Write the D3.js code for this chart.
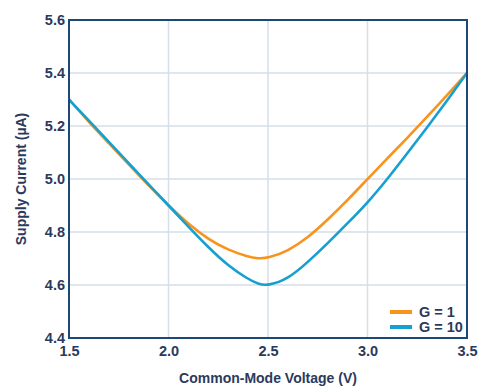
<!DOCTYPE html>
<html>
<head>
<meta charset="utf-8">
<script src="https://cdn.jsdelivr.net/npm/d3@7"></script>
<style>
  body { margin: 0; background: #fff; }
  text { font-family: "Liberation Sans", Arial, sans-serif; font-weight: bold; fill: #2b3a5c; }
</style>
</head>
<body>
<div id="chart"></div>
<script>
// data
var voltage = [1.5, 1.6, 1.7, 1.8, 1.9, 2.0, 2.1, 2.2, 2.3, 2.4, 2.45, 2.5, 2.6, 2.7, 2.8, 2.9, 3.0, 3.1, 3.2, 3.3, 3.4, 3.5];
var gain1   = [5.30, 5.215, 5.135, 5.055, 4.975, 4.90, 4.83, 4.772, 4.732, 4.706, 4.70, 4.701, 4.728, 4.778, 4.846, 4.92, 5.00, 5.078, 5.155, 5.235, 5.316, 5.40];
var gain10  = [5.30, 5.22, 5.14, 5.06, 4.98, 4.90, 4.82, 4.742, 4.672, 4.622, 4.604, 4.597, 4.622, 4.686, 4.757, 4.833, 4.91, 5.00, 5.097, 5.195, 5.296, 5.40];
var xTicks = [1.5, 2.0, 2.5, 3.0, 3.5];
var yTicks = [4.4, 4.6, 4.8, 5.0, 5.2, 5.4, 5.6];
var seriesNames = ["G = 1", "G = 10"];
var seriesColors = ["#f7941d", "#16a0d0"];

var svgWidth = 480;
var svgHeight = 387;
var margin = { top: 20, right: 13, bottom: 49, left: 69 };
var width = svgWidth - margin.left - margin.right;
var height = svgHeight - margin.top - margin.bottom;

var svg = d3.select("#chart")
  .append("svg")
  .attr("width", svgWidth)
  .attr("height", svgHeight);

var chartGroup = svg.append("g")
  .attr("transform", `translate(${margin.left}, ${margin.top})`);

var x = d3.scaleLinear().domain([1.5, 3.5]).range([0, width]);
var y = d3.scaleLinear().domain([4.4, 5.6]).range([height, 0]);

// grid
chartGroup.append("g")
  .selectAll("line")
  .data(xTicks.slice(1, -1))
  .enter()
  .append("line")
  .attr("x1", d => x(d)).attr("x2", d => x(d))
  .attr("y1", 0).attr("y2", height)
  .attr("stroke", "#d6dee7")
  .attr("stroke-width", 1.5);

chartGroup.append("g")
  .selectAll("line")
  .data(yTicks.slice(1, -1))
  .enter()
  .append("line")
  .attr("x1", 0).attr("x2", width)
  .attr("y1", d => y(d)).attr("y2", d => y(d))
  .attr("stroke", "#d6dee7")
  .attr("stroke-width", 1.5);

// axes (labels only, frame drawn separately)
var bottomAxis = d3.axisBottom(x).tickValues(xTicks).tickFormat(d3.format(".1f")).tickSize(0).tickPadding(8);
var leftAxis = d3.axisLeft(y).tickValues(yTicks).tickFormat(d3.format(".1f")).tickSize(0).tickPadding(4);

var xAxis = chartGroup.append("g")
  .attr("transform", `translate(0, ${height})`)
  .call(bottomAxis);
var yAxis = chartGroup.append("g").call(leftAxis);
[xAxis, yAxis].forEach(function(a) {
  a.select(".domain").remove();
  a.selectAll("text").style("font-size", "14.5px").style("fill", "#2b3a5c").style("font-family", "Liberation Sans, Arial, sans-serif").style("font-weight", "bold");
});

// curves
var line = d3.line()
  .x(d => x(d[0]))
  .y(d => y(d[1]))
  .curve(d3.curveBasis);

[gain1, gain10].forEach(function(vals, i) {
  chartGroup.append("path")
    .datum(voltage.map((v, j) => [v, vals[j]]))
    .attr("fill", "none")
    .attr("stroke", seriesColors[i])
    .attr("stroke-width", 2.6)
    .attr("d", line);
});

// frame
chartGroup.append("rect")
  .attr("x", 0).attr("y", 0)
  .attr("width", width).attr("height", height)
  .attr("fill", "none")
  .attr("stroke", "#1d4776")
  .attr("stroke-width", 2);

// legend
var legend = chartGroup.append("g")
  .attr("transform", `translate(${width - 77}, ${height - 26})`);
seriesNames.forEach(function(name, i) {
  legend.append("line")
    .attr("x1", 0).attr("x2", 22)
    .attr("y1", i * 15).attr("y2", i * 15)
    .attr("stroke", seriesColors[i])
    .attr("stroke-width", 4);
  legend.append("text")
    .attr("x", 29).attr("y", i * 15 + 5)
    .style("font-size", "14.5px")
    .text(name);
});

// axis titles
svg.append("text")
  .attr("x", margin.left + width / 2)
  .attr("y", 383)
  .attr("text-anchor", "middle")
  .style("font-size", "14px")
  .text("Common-Mode Voltage (V)");

svg.append("text")
  .attr("transform", `translate(26, ${margin.top + height / 2}) rotate(-90)`)
  .attr("text-anchor", "middle")
  .style("font-size", "14px")
  .text("Supply Current (µA)");
</script>
</body>
</html>
